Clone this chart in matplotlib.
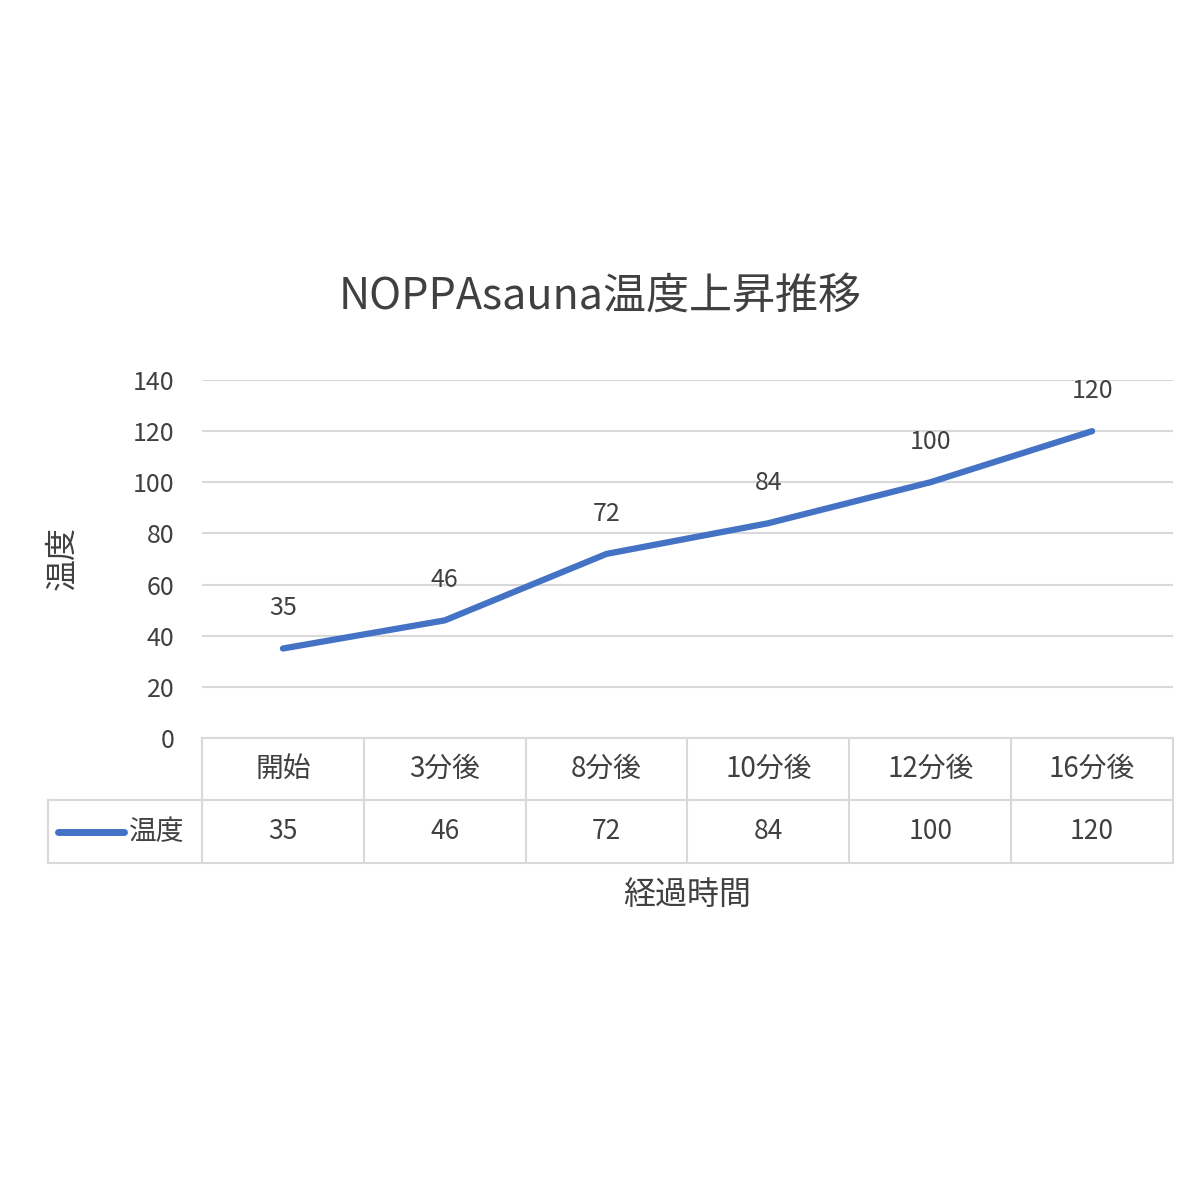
import matplotlib.pyplot as plt
from matplotlib.transforms import blended_transform_factory

plt.rcParams['font.family'] = ['Noto Sans CJK JP', 'DejaVu Sans']

categories = ['開始', '3分後', '8分後', '10分後', '12分後', '16分後']
temps = [35, 46, 72, 84, 100, 120]
series_name = '温度'
yticks = [0, 20, 40, 60, 80, 100, 120, 140]

txt = '#404040'
grid = '#d9d9d9'
blue = '#4472c4'

fig = plt.figure(figsize=(12, 12), dpi=100)
ax = fig.add_axes([202/1200, 1-738/1200, 971/1200, 358/1200])
xs = list(range(len(categories)))
ax.plot(xs, temps, color=blue, lw=4.5, solid_capstyle='round')
for x, v in zip(xs, temps):
    ax.annotate(str(v), (x, v), xytext=(0, 29), textcoords='offset points',
                ha='center', va='center', fontsize=18, color=txt)
ax.set_xlim(-0.5, len(categories) - 0.5)
ax.set_ylim(0, 140)
ax.set_yticks(yticks)
ax.yaxis.grid(True, color=grid, lw=1.5)
ax.set_xticks([])
ax.tick_params(axis='y', length=0, labelsize=18, labelcolor=txt, pad=20)
for s in ax.spines.values():
    s.set_visible(False)

# data table below the plot
tr = blended_transform_factory(ax.transData, ax.transAxes)
h1 = 62/358
h2 = 125/358
left = -0.5 - 154/162
kw = dict(color=grid, lw=1.5, clip_on=False, transform=tr)
ax.plot([-0.5, 5.5], [0, 0], **kw)
ax.plot([left, 5.5], [-h1, -h1], **kw)
ax.plot([left, 5.5], [-h2, -h2], **kw)
ax.plot([left, left], [-h1, -h2], **kw)
ax.plot([-0.5, -0.5], [0, -h2], **kw)
for i in range(len(categories)):
    ax.plot([i + 0.5, i + 0.5], [0, -h2], **kw)
    ax.text(i, -h1/2, categories[i], ha='center', va='center', fontsize=20,
            color=txt, transform=tr)
    ax.text(i, -(h1 + h2)/2, str(temps[i]), ha='center', va='center',
            fontsize=19, color=txt, transform=tr)
ax.plot([left + 0.06, left + 0.47], [-(h1 + h2)/2]*2, color=blue, lw=5,
        solid_capstyle='round', clip_on=False, transform=tr)
ax.text(left + 0.5, -(h1 + h2)/2, series_name, ha='left', va='center',
        fontsize=20, color=txt, transform=tr)

fig.text(0.5, 1-298/1200, 'NOPPAsauna温度上昇推移', ha='center', va='center',
         fontsize=31, color=txt)
fig.text(687/1200, 1-895/1200, '経過時間', ha='center', va='center',
         fontsize=23, color=txt)
fig.text(62/1200, 1-558/1200, '温度', ha='center', va='center', rotation=90,
         fontsize=23, color=txt)

fig.savefig('out.png')
